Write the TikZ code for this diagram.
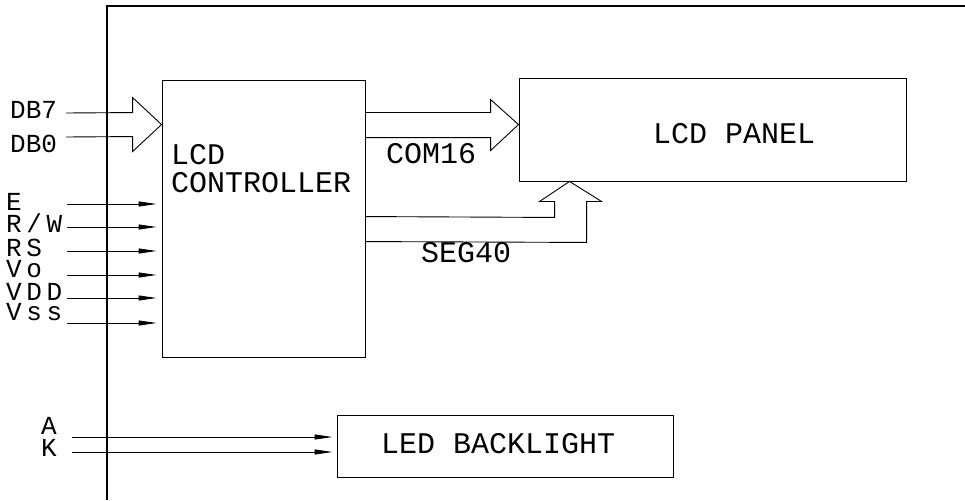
\documentclass[tikz,border=0pt]{standalone}
\usepackage{fontspec}
\setmainfont{Liberation Mono}
\newfontfamily\widemono{Liberation Mono}[LetterSpace=18]
\usetikzlibrary{arrows.meta,calc}
\begin{document}
\begin{tikzpicture}[x=1pt,y=-1pt,
  blk/.style={draw,line width=0.9pt,inner sep=0pt},
  lbl/.style={inner sep=0pt,anchor=base west,text height=16pt,text depth=0pt,font=\fontsize{30}{30}\selectfont},
  wlbl/.style={inner sep=0pt,anchor=base west,text height=14pt,text depth=0pt,font=\widemono\fontsize{26}{26}\selectfont},
  slbl/.style={inner sep=0pt,anchor=base west,text height=15pt,text depth=0pt,font=\fontsize{26}{26}\selectfont},
  sig/.style={line width=0.9pt,-{Triangle[length=18pt,width=5pt]}},
  hollow/.style={line width=0.9pt,line join=miter},
  frame/.style={line width=1.6pt}]
\useasboundingbox (0,0) rectangle (965,500);
% frame
\draw[frame] (107,500) -- (107,6) -- (965,6);
% blocks
\node[blk,minimum width=203pt,minimum height=277pt] (ctrl) at (263.5,218.5) {};
\node[blk,minimum width=387pt,minimum height=103pt] (panel) at (712.5,129.5) {};
\node[blk,minimum width=336pt,minimum height=62pt] (led) at (505,446) {};
% block texts
\node[lbl] (tLCD) at (171,164) {LCD};
\node[lbl] (tCTRL) at (171,192) {CONTROLLER};
\node[lbl] (tPANEL) at (653,143) {LCD PANEL};
\node[lbl] (tLED) at (381,453) {LED BACKLIGHT};
% data bus arrow
\coordinate (dbtip) at ($(ctrl.north west)+(0,45)$);
\coordinate (db) at (66,125);
\draw[hollow] ($(db)+(0,-12)$) -- ($(dbtip)+(-29,-12)$) -- ($(dbtip)+(-29,-27)$) -- (dbtip)
  -- ($(dbtip)+(-29,27)$) -- ($(dbtip)+(-29,12)$) -- ($(db)+(0,12)$);
\node[slbl] (tDB7) at (10,118) {DB7};
\node[slbl] (tDB0) at (10,152) {DB0};
% COM16 arrow
\coordinate (comtip) at ($(panel.north west)+(0,47)$);
\coordinate (com) at (comtip -| ctrl.east);
\draw[hollow] ($(com)+(0,-12)$) -- ($(comtip)+(-28,-12)$) -- ($(comtip)+(-28,-25)$) -- (comtip)
  -- ($(comtip)+(-28,26)$) -- ($(comtip)+(-28,13)$) -- ($(com)+(0,13)$);
\node[lbl] (tCOM) at (386,163) {COM16};
% SEG40 arrow
\coordinate (segtip) at ($(panel.south west)+(51,0)$);
\coordinate (seg) at ($(ctrl.north east)+(0,137)$);
\draw[hollow] (seg) -- ($(segtip)+(-15,36)$) -- ($(segtip)+(-15,20)$) -- ($(segtip)+(-30,20)$) -- (segtip)
  -- ($(segtip)+(32,20)$) -- ($(segtip)+(17,20)$) -- ($(segtip)+(17,61)$) -- ($(seg)+(0,25)$);
\node[lbl] (tSEG) at (421,262) {SEG40};
% control signals
\foreach \n/\t/\yl/\ys in {E/E/210/204, RW/{R/W}/232/227, RS/RS/256/251, Vo/Vo/277/275, VDD/VDD/300/298, Vss/Vss/320/323}{
  \node[wlbl] (t\n) at (6,\yl) {\t};
  \coordinate (s\n) at (67,\ys);
  \draw[sig,shorten >=5pt] (s\n) -- (s\n -| ctrl.west);
}
% backlight
\node[slbl,text height=14pt] (tA) at (41,434) {A};
\node[slbl,text height=14pt] (tK) at (41,456) {K};
\coordinate (sA) at (72,437);
\coordinate (sK) at (72,452);
\draw[sig,shorten >=4pt] (sA) -- (sA -| led.west);
\draw[sig,shorten >=4pt] (sK) -- (sK -| led.west);
\end{tikzpicture}
\end{document}
